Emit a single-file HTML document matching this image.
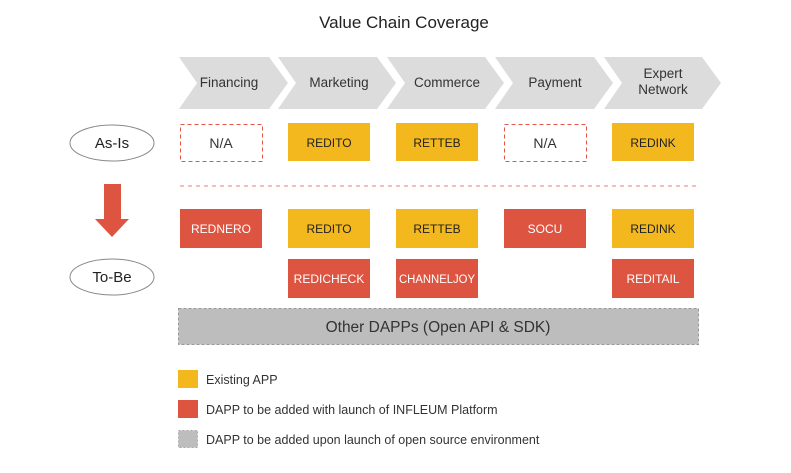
<!DOCTYPE html>
<html><head><meta charset="utf-8"><style>
html,body{margin:0;padding:0;background:#fff;}
svg{display:block;font-family:"Liberation Sans",sans-serif;}
</style></head><body>
<svg width="791" height="473" viewBox="0 0 791 473" xmlns="http://www.w3.org/2000/svg">
<rect width="791" height="473" fill="#fff"/>
<text x="404" y="28" font-size="17" text-anchor="middle" fill="#222">Value Chain Coverage</text>
<g fill="#dcdcdc">
<polygon points="179,57 269,57 288,83 269,109 179,109 197,83"/>
<polygon points="278,57 377,57 396,83 377,109 278,109 296,83"/>
<polygon points="387,57 485,57 504,83 485,109 387,109 405,83"/>
<polygon points="495,57 594,57 613,83 594,109 495,109 513,83"/>
<polygon points="604,57 702,57 721,83 702,109 604,109 622,83"/>
</g>
<g font-size="13.5" fill="#333" text-anchor="middle">
<text x="229" y="87">Financing</text>
<text x="339" y="87">Marketing</text>
<text x="447" y="87">Commerce</text>
<text x="555" y="87">Payment</text>
<text x="663" y="78">Expert</text>
<text x="663" y="94">Network</text>
</g>
<ellipse cx="112" cy="143" rx="42" ry="18" fill="#fff" stroke="#888"/>
<text x="112" y="148" font-size="15" text-anchor="middle" fill="#222">As-Is</text>
<ellipse cx="112" cy="277" rx="42" ry="18" fill="#fff" stroke="#888"/>
<text x="112" y="282" font-size="15" text-anchor="middle" fill="#222">To-Be</text>
<polygon points="104,184 121,184 121,219 129,219 112,237 95,219 104,219" fill="#dd5440"/>
<g fill="none" stroke="#e0584a" stroke-dasharray="4,3">
<rect x="180.5" y="124.5" width="82" height="37"/>
<rect x="504.5" y="124.5" width="82" height="37"/>
</g>
<line x1="180" y1="186" x2="698" y2="186" stroke="#f0a8a0" stroke-width="1.5" stroke-dasharray="4,4"/>
<g fill="#f4b81f">
<rect x="288" y="123" width="82" height="38"/>
<rect x="396" y="123" width="82" height="38"/>
<rect x="612" y="123" width="82" height="38"/>
<rect x="288" y="209" width="82" height="39"/>
<rect x="396" y="209" width="82" height="39"/>
<rect x="612" y="209" width="82" height="39"/>
</g>
<g fill="#dd5440">
<rect x="180" y="209" width="82" height="39"/>
<rect x="504" y="209" width="82" height="39"/>
<rect x="288" y="259" width="82" height="39"/>
<rect x="396" y="259" width="82" height="39"/>
<rect x="612" y="259" width="82" height="39"/>
</g>
<g font-size="12" text-anchor="middle">
<text x="221" y="148" font-size="14" fill="#333">N/A</text>
<text x="545" y="148" font-size="14" fill="#333">N/A</text>
<text x="329" y="147" fill="#222">REDITO</text>
<text x="437" y="147" fill="#222">RETTEB</text>
<text x="653" y="147" fill="#222">REDINK</text>
<text x="329" y="233" fill="#222">REDITO</text>
<text x="437" y="233" fill="#222">RETTEB</text>
<text x="653" y="233" fill="#222">REDINK</text>
<text x="221" y="233" fill="#fff">REDNERO</text>
<text x="545" y="233" fill="#fff">SOCU</text>
<text x="329" y="283" fill="#fff">REDICHECK</text>
<text x="437" y="283" fill="#fff" font-size="11.5" textLength="76" lengthAdjust="spacingAndGlyphs">CHANNELJOY</text>
<text x="653" y="283" fill="#fff">REDITAIL</text>
</g>
<rect x="178.5" y="308.5" width="520" height="36" fill="#bdbdbd" stroke="#999" stroke-dasharray="3,2"/>
<text x="438" y="332" font-size="15.5" text-anchor="middle" fill="#333">Other DAPPs (Open API &amp; SDK)</text>
<rect x="178" y="370" width="20" height="18" fill="#f4b81f"/>
<rect x="178" y="400" width="20" height="18" fill="#dd5440"/>
<rect x="178.5" y="430.5" width="19" height="17" fill="#bdbdbd" stroke="#aaa" stroke-dasharray="2,2"/>
<g font-size="12.5" fill="#333">
<text x="206" y="384">Existing APP</text>
<text x="206" y="414">DAPP to be added with launch of INFLEUM Platform</text>
<text x="206" y="444">DAPP to be added upon launch of open source environment</text>
</g>
</svg>
</body></html>
